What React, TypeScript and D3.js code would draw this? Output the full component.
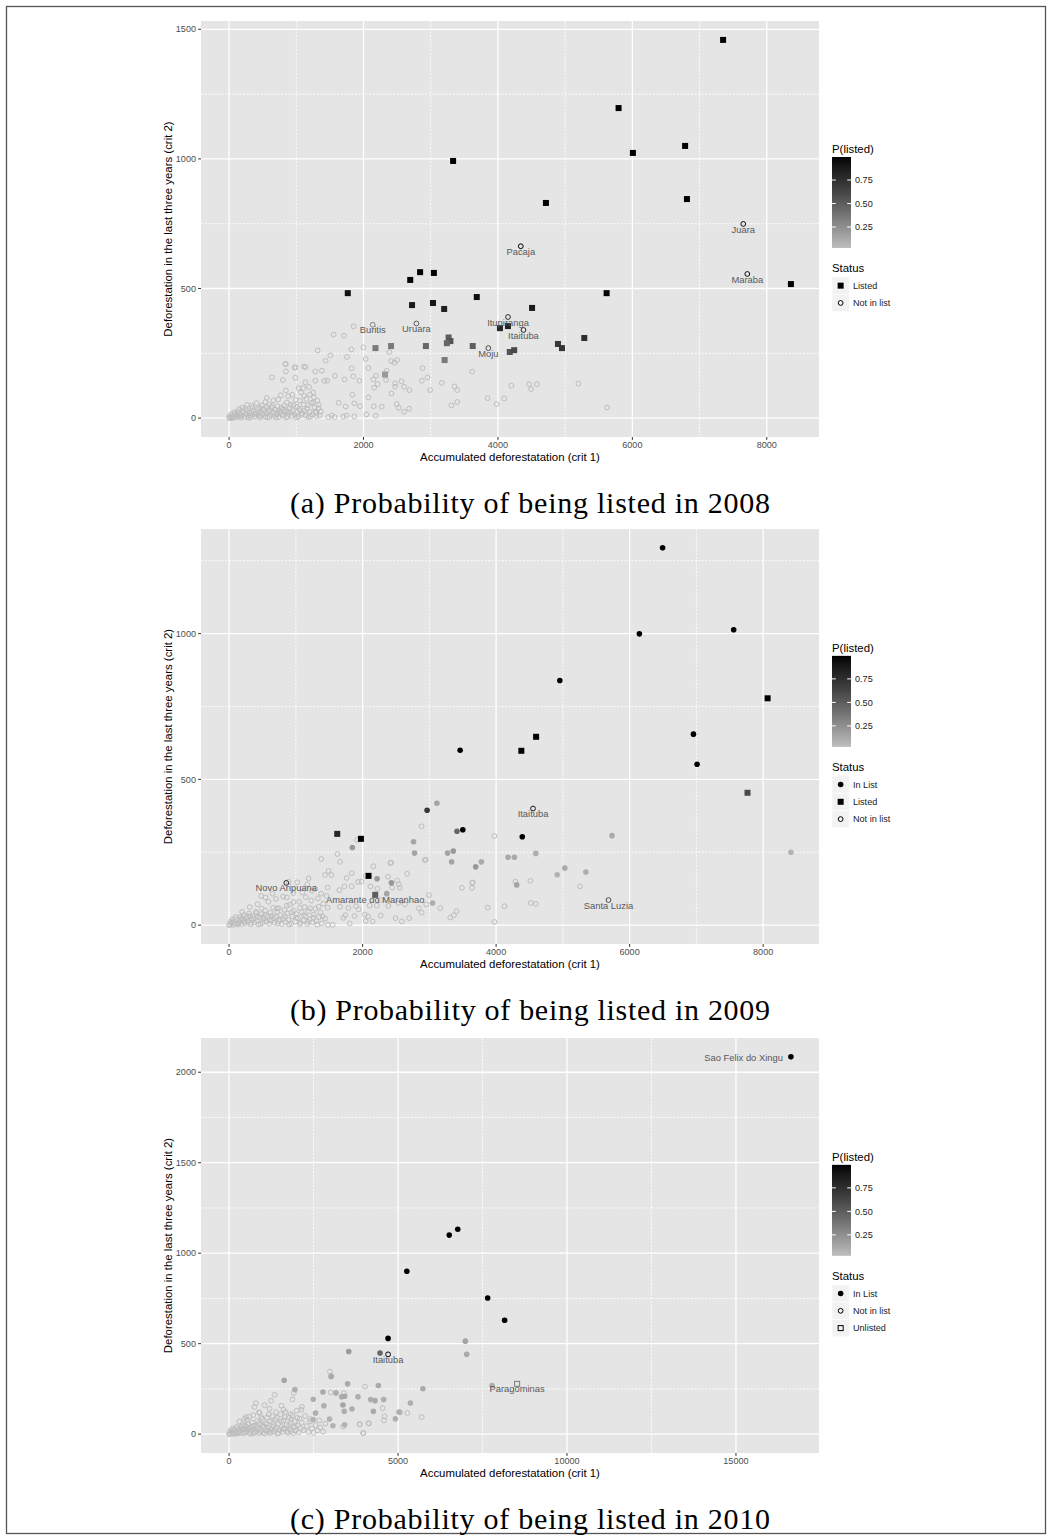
import React from 'react';
import * as d3 from 'd3';

type XY = [number, number];
type XYP = [number, number, number];
type Tag = [number, number, string, string];
type Shape = 'dot' | 'sq' | 'oc' | 'osq';

// ---------- 2008 ----------
// background municipalities, not in list, low P
const open08: XY[] = [
  [1853, 354], [1555, 322], [1709, 318], [1317, 261], [1819, 265], [1998, 273], [1754, 236], [1436, 221],
  [1506, 242], [2032, 228], [2385, 255], [2410, 220], [2499, 224], [2460, 214], [2345, 182], [845, 209],
  [845, 180], [989, 196], [1138, 196], [1282, 180], [1381, 183], [1824, 192], [2072, 193], [636, 157],
  [800, 147], [984, 156], [1133, 138], [1282, 144], [1416, 144], [1461, 144], [1575, 163], [1719, 149],
  [1848, 161], [1938, 144], [2147, 149], [2186, 163], [2211, 131], [2335, 147], [2470, 134], [2564, 142],
  [2604, 121], [2683, 108], [2470, 121], [2877, 193], [2951, 157], [2867, 144], [2991, 108], [3165, 136],
  [3354, 122], [3394, 108], [3309, 49], [3394, 62], [3617, 179], [3846, 77], [4094, 76], [3980, 54],
  [4199, 125], [4462, 131], [4492, 112], [4581, 131], [5198, 133], [5623, 41], [2494, 54], [2524, 40],
  [2678, 36], [2604, 24], [2042, 14], [2181, 9], [2271, 44], [2152, 46], [2415, 95], [2072, 80],
  [2157, 117], [1948, 46], [1863, 57], [1834, 90], [1734, 45], [1630, 59], [1863, 6], [1749, 10],
  [1699, 6], [1570, 4], [1476, 4], [1525, 10], [836, 208], [976, 195], [1115, 199],
  [268, 51], [333, 48], [487, 48], [552, 44], [631, 39], [730, 72], [845, 107], [919, 51],
  [1034, 116], [1103, 116], [1202, 91], [1252, 99], [1262, 80], [1312, 67], [1337, 51], [1366, 26],
  [1287, 26], [1004, 22], [870, 26], [1118, 86], [1053, 67], [805, 35], [716, 24],
  [0, 0], [20, 2], [45, 5], [60, 1], [80, 8], [100, 3], [120, 12], [140, 6], [160, 18], [175, 2],
  [190, 10], [210, 25], [230, 5], [250, 15], [265, 30], [280, 8], [300, 20], [320, 4], [340, 12],
  [360, 28], [380, 6], [400, 18], [420, 35], [440, 10], [460, 2], [480, 22], [500, 14], [520, 30],
  [540, 6], [560, 18], [580, 26], [600, 4], [620, 12], [650, 22], [670, 8], [690, 32], [710, 14],
  [740, 4], [760, 20], [780, 40], [800, 10], [830, 26], [850, 2], [880, 16], [900, 38], [930, 8],
  [950, 28], [980, 12], [1010, 44], [1030, 6], [1060, 30], [1090, 18], [1110, 52], [1140, 10],
  [1160, 36], [1180, 4], [1200, 24], [1220, 58], [1240, 14], [1270, 40], [1300, 8], [150, 34],
  [330, 22], [450, 40], [590, 52], [720, 46], [860, 60], [990, 70], [1150, 74], [410, 58], [35, 15],
  [75, 22], [195, 40], [540, 62], [660, 68], [940, 90], [1070, 98], [1190, 120], [880, 84], [770, 88],
  [560, 78], [10, 8], [30, 1], [90, 16], [130, 24], [170, 9], [240, 36], [290, 1], [350, 40], [390, 14],
  [430, 24], [470, 8], [510, 36], [570, 3], [610, 30], [640, 46], [700, 2], [750, 30], [790, 16],
  [820, 48], [870, 6], [910, 22], [960, 50], [1000, 2], [1040, 36], [1080, 12], [1120, 28], [1170, 50],
  [1210, 6], [1250, 60], [1290, 20], [1330, 38], [1350, 10],
];
const circ08: XYP[] = [
  [4340, 663, 1], [7650, 749, 0.95], [7710, 556, 0.95], [4150, 390, 0.75], [4380, 340, 0.85],
  [2787, 365, 0.5], [3857, 270, 0.6], [2137, 360, 0.3],
];
const sq08: XYP[] = [
  [7350, 1459, 1], [5795, 1196, 1], [6785, 1050, 1], [6008, 1023, 1], [3333, 992, 1], [6812, 845, 1],
  [4714, 830, 1], [2842, 563, 1], [3047, 560, 1], [2695, 533, 0.98], [3685, 467, 0.95], [1766, 482, 0.93],
  [5617, 482, 0.98], [8359, 517, 1], [2722, 436, 0.88], [3034, 444, 0.9], [3200, 421, 0.85], [4508, 425, 0.88],
  [4030, 347, 0.8], [4149, 355, 0.82], [5285, 309, 0.75], [3266, 311, 0.5], [3293, 297, 0.55], [3240, 289, 0.45],
  [2928, 278, 0.45], [3625, 278, 0.5], [4893, 286, 0.7], [4953, 270, 0.72], [4176, 255, 0.55], [4242, 262, 0.6],
  [2178, 270, 0.35], [2410, 278, 0.35], [3207, 224, 0.35], [2320, 168, 0.2],
];
const tags08: Tag[] = [
  [4340, 663, 'Pacaja', 'middle'], [7650, 749, 'Juara', 'middle'], [7710, 556, 'Maraba', 'middle'],
  [4150, 390, 'Itupiranga', 'middle'], [4380, 340, 'Itaituba', 'middle'], [2787, 365, 'Uruara', 'middle'],
  [3857, 270, 'Moju', 'middle'], [2137, 360, 'Buritis', 'middle'],
];

// ---------- 2009 ----------
const open09: XY[] = [
  [2883, 339], [3974, 306], [1917, 292], [1622, 244], [1662, 217], [1381, 227], [2427, 214], [2948, 224],
  [1762, 162], [1837, 178], [2162, 202], [1932, 148], [2047, 169], [1727, 133], [1837, 133], [1982, 149],
  [2117, 133], [2382, 166], [2518, 153], [2543, 140], [2558, 128], [2668, 176], [2442, 129], [2222, 125],
  [1491, 186], [1436, 172], [1532, 172], [1191, 161], [891, 149], [1021, 147], [1171, 140], [1476, 129],
  [1652, 120], [546, 95], [716, 57], [741, 58], [866, 67], [966, 79], [1061, 59], [1211, 58], [1341, 63],
  [1476, 60], [3639, 128], [3649, 146], [4289, 149], [4514, 152], [5255, 133], [3874, 60], [4124, 65],
  [4519, 76], [4595, 73], [3974, 11], [3313, 26], [3368, 34], [3408, 48], [3163, 58], [2843, 58],
  [2883, 43], [2993, 103], [2953, 71], [2698, 24], [2588, 13], [2493, 24], [2272, 33], [2152, 13],
  [2047, 14], [2082, 30], [1807, 6], [1552, 1], [1481, 1], [2387, 66], [2538, 76], [2633, 71], [2107, 67],
  [2212, 67], [2267, 86], [1902, 65], [1942, 54], [1787, 59], [1662, 63], [2032, 36], [1877, 31],
  [1742, 34], [1712, 25], [3642, 145], [3488, 128], [2932, 223], [2417, 213], [490, 57], [866, 95],
  [310, 31], [195, 24], [636, 31], [410, 41],
  [0, 0], [15, 3], [35, 8], [55, 1], [70, 14], [90, 5], [110, 20], [130, 2], [150, 10], [165, 28],
  [185, 4], [200, 16], [220, 34], [240, 7], [260, 22], [280, 12], [300, 40], [320, 3], [340, 18],
  [360, 30], [380, 9], [400, 46], [420, 14], [440, 2], [460, 26], [480, 38], [500, 8], [520, 20],
  [540, 50], [560, 12], [580, 30], [600, 5], [620, 42], [640, 18], [660, 60], [680, 8], [700, 28],
  [720, 46], [745, 14], [770, 34], [790, 4], [810, 22], [830, 52], [850, 10], [870, 40], [890, 18],
  [910, 70], [930, 6], [950, 30], [970, 50], [990, 12], [1010, 38], [1030, 24], [1050, 80], [1070, 8],
  [1090, 44], [1110, 16], [1130, 62], [1150, 30], [1170, 4], [1190, 48], [1210, 20], [1230, 84],
  [1250, 10], [1270, 36], [1290, 56], [1310, 14], [1330, 92], [1350, 28], [1370, 44], [1390, 6],
  [1410, 74], [1440, 22], [1460, 100], [195, 45], [310, 62], [425, 72], [590, 80], [700, 90], [480, 100],
  [810, 98], [960, 110], [1100, 112], [1240, 118], [1380, 108], [1290, 125], [1150, 96], [650, 108],
  [25, 12], [50, 20], [100, 28], [145, 6], [175, 18], [230, 12], [270, 30], [330, 8], [370, 22],
  [430, 30], [470, 4], [510, 28], [550, 34], [610, 16], [670, 24], [730, 6], [760, 20], [840, 30],
  [900, 2], [940, 44], [1000, 26], [1060, 4], [1120, 34], [1180, 12], [1260, 26], [1320, 2], [1400, 30],
];
const dot09: XYP[] = [
  [6494, 1294, 1], [6146, 999, 1], [7559, 1013, 1], [4954, 839, 1], [6956, 655, 1], [7010, 552, 1],
  [3461, 600, 1], [3501, 327, 1], [4392, 303, 1], [2966, 394, 0.7], [3414, 322, 0.45],
  [3113, 418, 0.15], [5736, 307, 0.12], [2763, 286, 0.15], [2778, 247, 0.15], [1847, 266, 0.2],
  [3273, 247, 0.15], [3358, 254, 0.2], [3333, 217, 0.15], [4179, 233, 0.12], [4274, 233, 0.12],
  [4595, 246, 0.1], [3694, 200, 0.2], [3779, 217, 0.12], [5030, 196, 0.12], [5345, 182, 0.1],
  [4915, 173, 0.08], [4309, 138, 0.15], [2217, 159, 0.2], [2432, 145, 0.2], [2362, 108, 0.15],
  [3048, 76, 0.1], [8416, 250, 0.08],
];
const sq09: XYP[] = [
  [8067, 778, 1], [4599, 646, 1], [4378, 598, 1], [7766, 454, 0.6], [1620, 313, 0.8], [1975, 296, 1],
  [2089, 169, 1], [2189, 104, 0.5],
];
const circ09: XYP[] = [[4553, 400, 0.9], [857, 145, 0.8], [5684, 86, 0.6]];
const tags09: Tag[] = [
  [4553, 400, 'Itaituba', 'middle'], [857, 145, 'Novo Aripuana', 'middle'], [5684, 86, 'Santa Luzia', 'middle'],
  [2189, 104, 'Amarante do Maranhao', 'middle'],
];

// ---------- 2010 ----------
const open10: XY[] = [
  [2984, 346], [3013, 317], [4022, 263], [3004, 231], [3397, 227], [3379, 43], [3873, 54], [4140, 59],
  [3972, 6], [4545, 144], [4585, 76], [5276, 117], [5701, 94], [1242, 184], [1348, 217], [1877, 192],
  [1916, 227], [793, 171], [502, 94], [952, 94], [1612, 135], [2154, 151], [1546, 157], [4599, 98],
  [5062, 120], [3859, 55], [4123, 61], [3965, 6], [2670, 76], [2405, 83], [2141, 135], [1824, 111],
  [1388, 122], [1176, 109], [885, 120], [714, 105], [529, 79],
  [0, 0], [25, 4], [50, 10], [80, 2], [110, 18], [140, 6], [170, 26], [200, 12], [230, 3], [260, 32],
  [290, 16], [320, 8], [350, 40], [380, 22], [410, 5], [440, 30], [470, 48], [500, 12], [530, 24],
  [560, 56], [590, 8], [620, 36], [650, 18], [680, 64], [710, 4], [740, 28], [770, 46], [800, 14],
  [830, 72], [860, 32], [890, 6], [920, 52], [950, 22], [980, 84], [1010, 10], [1040, 40], [1070, 60],
  [1100, 18], [1130, 92], [1160, 34], [1190, 8], [1220, 70], [1250, 26], [1280, 100], [1310, 44],
  [1340, 14], [1370, 80], [1400, 36], [1430, 4], [1460, 58], [1490, 22], [1520, 110], [1550, 40],
  [1580, 12], [1610, 76], [1640, 30], [1670, 122], [1700, 50], [1730, 8], [1760, 90], [1790, 26],
  [1820, 60], [1850, 16], [1880, 104], [1910, 40], [1940, 72], [1970, 20], [2000, 130], [2030, 48],
  [2060, 10], [2090, 86], [2120, 32], [2150, 64], [2200, 22], [2250, 100], [2300, 44], [2350, 12],
  [2400, 70], [2450, 30], [2500, 8], [2560, 50], [2620, 20], [2700, 36], [2780, 14], [2850, 58],
  [300, 70], [600, 96], [900, 118], [1200, 140], [750, 150], [450, 84], [1050, 160],
  [40, 20], [95, 30], [160, 2], [215, 40], [275, 6], [335, 24], [395, 50], [455, 10], [515, 40],
  [575, 28], [635, 2], [695, 44], [755, 10], [815, 40], [875, 60], [935, 12], [995, 46], [1055, 4],
  [1115, 54], [1175, 20], [1235, 8], [1295, 62], [1355, 28], [1415, 90], [1475, 6], [1535, 70],
  [1595, 30], [1655, 94], [1715, 16], [1775, 46], [1835, 80], [1895, 6], [1955, 40], [2015, 90],
];
const dot10: XYP[] = [
  [16626, 2085, 1], [6767, 1132, 1], [6515, 1100, 1], [5260, 900, 1], [7652, 752, 1], [8154, 629, 1],
  [4705, 529, 1], [4467, 448, 0.45], [3542, 457, 0.2], [6991, 514, 0.15], [7031, 441, 0.12],
  [7784, 269, 0.1], [5736, 251, 0.12], [1630, 298, 0.15], [3024, 320, 0.12], [1947, 246, 0.1],
  [3508, 278, 0.12], [4417, 269, 0.12], [2777, 233, 0.12], [3162, 228, 0.1], [3330, 206, 0.1],
  [3419, 209, 0.12], [3814, 207, 0.1], [4190, 191, 0.1], [4318, 185, 0.12], [4575, 191, 0.1],
  [4269, 126, 0.12], [2490, 193, 0.1], [2806, 157, 0.1], [3369, 161, 0.15], [3636, 139, 0.1],
  [3409, 126, 0.1], [5029, 122, 0.1], [5365, 172, 0.1], [4921, 85, 0.1], [2559, 117, 0.1],
  [2490, 80, 0.08], [2974, 83, 0.08], [3073, 46, 0.08], [3419, 52, 0.08],
];
const circ10: XYP[] = [[4705, 441, 1]];
const osq10: XYP[] = [[8524, 278, 0.35]];
const tags10: Tag[] = [
  [16626, 2085, 'Sao Felix do Xingu', 'end'], [4705, 441, 'Itaituba', 'middle'], [8524, 278, 'Paragominas', 'middle'],
];

// ---------- axes / legend ----------
const xTicks08 = [0, 2000, 4000, 6000, 8000];
const xMinor08 = [1000, 3000, 5000, 7000];
const yTicks08 = [0, 500, 1000, 1500];
const yMinor08 = [250, 750, 1250];
const yTicks09 = [0, 500, 1000];
const yMinor09 = [250, 750, 1250];
const xTicks10 = [0, 5000, 10000, 15000];
const xMinor10 = [2500, 7500, 12500];
const yTicks10 = [0, 500, 1000, 1500, 2000];
const yMinor10 = [250, 750, 1250, 1750];

const pLimits: [number, number] = [0.027, 0.995];
const pTicks = [0.25, 0.5, 0.75];
const lowP = 0.03;

const status08: [string, Shape][] = [['Listed', 'sq'], ['Not in list', 'oc']];
const status09: [string, Shape][] = [['In List', 'dot'], ['Listed', 'sq'], ['Not in list', 'oc']];
const status10: [string, Shape][] = [['In List', 'dot'], ['Not in list', 'oc'], ['Unlisted', 'osq']];

const captions = [
  '(a) Probability of being listed in 2008',
  '(b) Probability of being listed in 2009',
  '(c) Probability of being listed in 2010',
];
const xTitle = 'Accumulated deforestatation (crit 1)';
const yTitle = 'Deforestation in the last three years (crit 2)';

const SANS = '"Liberation Sans", Arial, Helvetica, sans-serif';
const SERIF = '"Liberation Serif", "Times New Roman", serif';
const PL = 201;
const PR = 819;
const LX = 832;

const color = d3
  .scaleLinear<string>()
  .domain(pLimits)
  .range(['#bebebe', '#000000'])
  .interpolate(d3.interpolateLab)
  .clamp(true);

function mark(shape: Shape, cx: number, cy: number, col: string, key: string | number) {
  if (shape === 'dot') return <circle key={key} cx={cx} cy={cy} r={2.8} fill={col} />;
  if (shape === 'sq') return <rect key={key} x={cx - 3} y={cy - 3} width={6} height={6} fill={col} />;
  if (shape === 'osq')
    return <rect key={key} x={cx - 2.5} y={cy - 2.5} width={5} height={5} fill="none" stroke={col} strokeWidth={1} />;
  return <circle key={key} cx={cx} cy={cy} r={2.4} fill="none" stroke={col} strokeWidth={1} />;
}

type PanelProps = {
  idx: number;
  top: number;
  bottom: number;
  open: XY[];
  dots?: XYP[];
  squares?: XYP[];
  circles?: XYP[];
  oSquares?: XYP[];
  tags: Tag[];
  xTicks: number[];
  xMinor: number[];
  yTicks: number[];
  yMinor: number[];
  status: [string, Shape][];
};

function Panel({ idx, top, bottom, open, dots = [], squares = [], circles = [], oSquares = [], tags, xTicks, xMinor, yTicks, yMinor, status }: PanelProps) {
  const all: number[][] = [...open, ...dots, ...squares, ...circles, ...oSquares];
  const [x0, x1] = d3.extent(all, (d) => d[0]) as [number, number];
  const [y0, y1] = d3.extent(all, (d) => d[1]) as [number, number];
  const dx = (x1 - x0) * 0.05;
  const dy = (y1 - y0) * 0.05;
  const x = d3.scaleLinear().domain([x0 - dx, x1 + dx]).range([PL, PR]);
  const y = d3.scaleLinear().domain([y0 - dy, y1 + dy]).range([bottom, top]);
  const fmt = d3.format('d');

  const cy = (top + bottom) / 2;
  const legH = 135.4 + 17.3 * status.length;
  const T = cy - 2 - legH / 2;
  const bar = d3.scaleLinear().domain(pLimits).range([T + 106, T + 15]);
  const gradId = `pgrad${idx}`;
  const stops = d3.range(0, 1.0001, 0.1);

  return (
    <g>
      <defs>
        <linearGradient id={gradId} x1="0" y1="1" x2="0" y2="0">
          {stops.map((s) => (
            <stop key={s} offset={s} stopColor={color(pLimits[0] + s * (pLimits[1] - pLimits[0]))} />
          ))}
        </linearGradient>
      </defs>
      <rect x={PL} y={top} width={PR - PL} height={bottom - top} fill="#e5e5e5" />
      {xMinor.map((t) => (
        <line key={'xm' + t} x1={x(t)} x2={x(t)} y1={top} y2={bottom} stroke="#fff" strokeWidth={0.9} strokeDasharray="2 1.5" />
      ))}
      {yMinor.map((t) => (
        <line key={'ym' + t} x1={PL} x2={PR} y1={y(t)} y2={y(t)} stroke="#fff" strokeWidth={0.9} strokeDasharray="2 1.5" />
      ))}
      {xTicks.map((t) => (
        <line key={'xM' + t} x1={x(t)} x2={x(t)} y1={top} y2={bottom} stroke="#fff" strokeWidth={1.3} />
      ))}
      {yTicks.map((t) => (
        <line key={'yM' + t} x1={PL} x2={PR} y1={y(t)} y2={y(t)} stroke="#fff" strokeWidth={1.3} />
      ))}

      {open.map((d, i) => mark('oc', x(d[0]), y(d[1]), color(lowP), 'o' + i))}
      {dots.map((d, i) => mark('dot', x(d[0]), y(d[1]), color(d[2]), 'd' + i))}
      {squares.map((d, i) => mark('sq', x(d[0]), y(d[1]), color(d[2]), 's' + i))}
      {oSquares.map((d, i) => mark('osq', x(d[0]), y(d[1]), color(d[2]), 'q' + i))}
      {circles.map((d, i) => mark('oc', x(d[0]), y(d[1]), color(d[2]), 'c' + i))}
      {tags.map((d, i) =>
        d[3] === 'end' ? (
          <text key={'t' + i} x={x(d[0]) - 8} y={y(d[1]) + 4} textAnchor="end" fontSize={9.4} fill="#595959" fontFamily={SANS}>
            {d[2]}
          </text>
        ) : (
          <text key={'t' + i} x={x(d[0])} y={y(d[1]) + 8.6} textAnchor="middle" fontSize={9.4} fill="#595959" fontFamily={SANS}>
            {d[2]}
          </text>
        )
      )}

      {/* axes */}
      {yTicks.map((t) => (
        <g key={'yt' + t}>
          <line x1={PL - 2.9} x2={PL} y1={y(t)} y2={y(t)} stroke="#333" strokeWidth={1} />
          <text x={PL - 5} y={y(t) + 3.2} textAnchor="end" fontSize={9.1} fill="#4d4d4d" fontFamily={SANS}>
            {fmt(t)}
          </text>
        </g>
      ))}
      {xTicks.map((t) => (
        <g key={'xt' + t}>
          <line x1={x(t)} x2={x(t)} y1={bottom} y2={bottom + 2.9} stroke="#333" strokeWidth={1} />
          <text x={x(t)} y={bottom + 10.8} textAnchor="middle" fontSize={9.1} fill="#4d4d4d" fontFamily={SANS}>
            {fmt(t)}
          </text>
        </g>
      ))}
      <text x={(PL + PR) / 2} y={bottom + 23.5} textAnchor="middle" fontSize={11.4} fill="#000" fontFamily={SANS}>
        {xTitle}
      </text>
      <text
        transform={`translate(172,${cy}) rotate(-90)`}
        textAnchor="middle"
        fontSize={11.4}
        fill="#000"
        fontFamily={SANS}
      >
        {yTitle}
      </text>

      {/* legend */}
      <text x={LX} y={T + 11} fontSize={11.4} fill="#000" fontFamily={SANS}>
        P(listed)
      </text>
      <rect x={LX} y={T + 15} width={19} height={91} fill={`url(#${gradId})`} />
      {pTicks.map((t) => (
        <g key={'pt' + t}>
          <line x1={LX} x2={LX + 3.8} y1={bar(t)} y2={bar(t)} stroke="#fff" strokeWidth={1} />
          <line x1={LX + 15.2} x2={LX + 19} y1={bar(t)} y2={bar(t)} stroke="#fff" strokeWidth={1} />
          <text x={LX + 23} y={bar(t) + 3.2} fontSize={9.1} fill="#1a1a1a" fontFamily={SANS}>
            {d3.format('.2f')(t)}
          </text>
        </g>
      ))}
      <text x={LX} y={T + 130} fontSize={11.4} fill="#000" fontFamily={SANS}>
        Status
      </text>
      {status.map(([label, shape], i) => {
        const ky = T + 135 + i * 17.3;
        return (
          <g key={'k' + i}>
            <rect x={LX} y={ky} width={17.3} height={17.3} fill="#f2f2f2" stroke="#fff" strokeWidth={0.6} />
            {mark(shape, LX + 8.65, ky + 8.65, '#000', 'km' + i)}
            <text x={LX + 21} y={ky + 12} fontSize={9.1} fill="#1a1a1a" fontFamily={SANS}>
              {label}
            </text>
          </g>
        );
      })}

      <text x={530} y={bottom + 76} textAnchor="middle" fontSize={30} fill="#000" fontFamily={SERIF} textLength={480} lengthAdjust="spacing">
        {captions[idx]}
      </text>
    </g>
  );
}

export default function App() {
  return (
    <svg width={1051} height={1539} style={{ position: 'absolute', left: 0, top: 0, background: '#fff' }}>
      <rect x={6.5} y={6.5} width={1039} height={1527} fill="none" stroke="#555" strokeWidth={1.3} />
      <Panel idx={0} top={21} bottom={437} open={open08} squares={sq08} circles={circ08} tags={tags08}
        xTicks={xTicks08} xMinor={xMinor08} yTicks={yTicks08} yMinor={yMinor08} status={status08} />
      <Panel idx={1} top={529} bottom={944} open={open09} dots={dot09} squares={sq09} circles={circ09} tags={tags09}
        xTicks={xTicks08} xMinor={xMinor08} yTicks={yTicks09} yMinor={yMinor09} status={status09} />
      <Panel idx={2} top={1038} bottom={1453} open={open10} dots={dot10} circles={circ10} oSquares={osq10} tags={tags10}
        xTicks={xTicks10} xMinor={xMinor10} yTicks={yTicks10} yMinor={yMinor10} status={status10} />
    </svg>
  );
}
